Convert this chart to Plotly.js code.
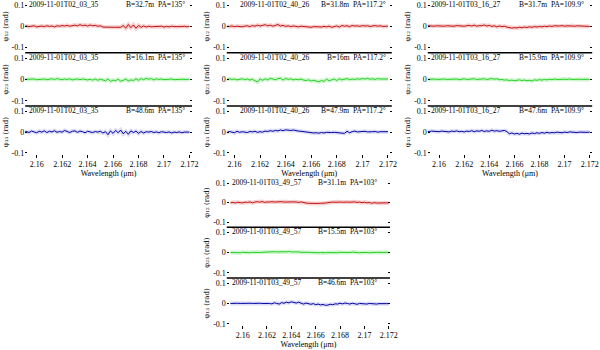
<!DOCTYPE html>
<html>
<head>
<meta charset="utf-8">
<script src="https://cdn.plot.ly/plotly-3.0.1.min.js"></script>
<style>
  html, body { margin: 0; padding: 0; background: #fff; }
  #chart { width: 600px; height: 350px; }
</style>
</head>
<body>
<div id="chart"></div>
<script>
'use strict';

// wavelength grid (micron), shared by all curves
var wavelength = [
    2.1590, 2.1592, 2.1594, 2.1596, 2.1598, 2.1600, 2.1602, 2.1604, 2.1606, 2.1608, 2.1610,
    2.1612, 2.1614, 2.1616, 2.1618, 2.1620, 2.1622, 2.1624, 2.1626, 2.1628, 2.1630, 2.1632,
    2.1634, 2.1636, 2.1638, 2.1640, 2.1642, 2.1644, 2.1646, 2.1648, 2.1650, 2.1652, 2.1654,
    2.1656, 2.1658, 2.1660, 2.1662, 2.1664, 2.1666, 2.1668, 2.1670, 2.1672, 2.1674, 2.1676,
    2.1678, 2.1680, 2.1682, 2.1684, 2.1686, 2.1688, 2.1690, 2.1692, 2.1694, 2.1696, 2.1698,
    2.1700, 2.1702, 2.1704, 2.1706, 2.1708, 2.1710, 2.1712, 2.1714, 2.1716, 2.1718, 2.1720
];

// observation 2009-11-01T02_03_35
var phiA1 = [
    0.000, 0.002, -0.001, 0.001, 0.003, -0.002, 0.001, 0.002, -0.001, 0.003, 0.000,
    0.002, -0.002, 0.003, 0.001, 0.004, 0.002, 0.005, 0.001, 0.004, 0.006, 0.003,
    0.008, 0.004, 0.006, 0.002, 0.007, 0.003, 0.005, 0.001, 0.003, -0.003, -0.004,
    -0.004, -0.005, -0.004, -0.004, -0.003, -0.004, 0.004, -0.008, 0.009, -0.006, 0.007,
    -0.009, 0.005, -0.004, 0.002, -0.003, 0.001, -0.002, -0.001, 0.000, -0.002, 0.001,
    -0.003, 0.000, -0.002, 0.001, -0.001, -0.002, 0.000, -0.001, 0.001, -0.002, 0.000
];
var phiA2 = [
    0.000, 0.001, -0.001, 0.000, 0.002, -0.001, 0.001, 0.000, 0.002, -0.001, 0.001,
    0.003, 0.000, 0.004, 0.001, -0.001, 0.002, 0.000, 0.003, -0.002, 0.001, 0.002,
    -0.001, 0.002, 0.000, -0.002, 0.001, -0.003, 0.002, -0.004, 0.001, -0.002, -0.006,
    0.002, -0.009, -0.003, -0.006, 0.001, -0.008, -0.004, 0.002, -0.007, -0.002, -0.005,
    0.003, -0.004, 0.004, -0.001, 0.005, 0.001, 0.004, -0.002, 0.003, 0.000, 0.002,
    -0.001, 0.001, 0.000, 0.002, -0.001, 0.001, 0.000, 0.001, -0.001, 0.000, 0.001
];
var phiA3 = [
    0.000, 0.003, -0.002, 0.005, 0.001, -0.003, 0.004, 0.000, 0.006, -0.002, 0.004,
    0.001, 0.007, -0.001, 0.003, 0.000, 0.008, 0.002, -0.002, 0.004, 0.006, -0.001,
    0.005, 0.002, -0.003, 0.004, 0.001, -0.002, 0.003, 0.000, 0.004, -0.004, 0.002,
    -0.012, 0.006, -0.006, 0.008, -0.003, 0.010, -0.008, 0.004, -0.010, 0.006, -0.002,
    0.005, -0.006, 0.003, -0.004, 0.002, 0.000, 0.003, -0.002, 0.001, -0.003, 0.002,
    0.000, -0.002, 0.001, -0.004, 0.000, -0.002, 0.001, -0.003, 0.000, -0.001, 0.000
];

// observation 2009-11-01T02_40_26
var phiB1 = [
    0.000, -0.001, 0.001, 0.000, 0.002, -0.001, 0.001, 0.000, -0.002, 0.001, 0.003,
    -0.001, 0.004, 0.001, 0.006, 0.002, 0.005, 0.008, 0.003, 0.006, 0.001, 0.004,
    0.009, 0.002, 0.005, 0.000, 0.003, -0.001, 0.002, 0.000, -0.002, 0.001, -0.001,
    -0.003, -0.002, -0.004, -0.001, -0.003, -0.002, -0.003, 0.000, -0.002, 0.001, -0.004,
    -0.001, 0.002, -0.003, 0.004, 0.001, 0.003, -0.001, 0.004, 0.002, 0.003, 0.000,
    0.004, 0.002, 0.003, 0.000, 0.002, 0.004, 0.001, 0.003, 0.000, 0.002, 0.001
];
var phiB2 = [
    0.000, 0.002, -0.001, 0.003, 0.000, 0.002, -0.002, 0.001, 0.003, -0.001, 0.002,
    -0.003, 0.001, -0.006, -0.012, 0.002, -0.004, 0.003, -0.002, 0.005, 0.001, -0.001,
    0.004, 0.006, -0.003, 0.005, 0.000, 0.003, -0.002, 0.001, -0.001, 0.002, -0.003,
    -0.005, -0.002, -0.007, -0.004, -0.008, -0.011, -0.005, -0.009, 0.001, -0.006, -0.002,
    0.002, -0.005, 0.003, -0.002, 0.001, 0.004, -0.001, 0.002, 0.000, 0.003, 0.001,
    0.004, 0.002, 0.005, 0.001, 0.003, 0.000, 0.004, 0.002, 0.003, 0.001, 0.002
];
var phiB3 = [
    0.000, 0.002, -0.002, 0.003, 0.000, -0.003, 0.004, -0.001, 0.002, 0.000, -0.002,
    0.003, 0.001, 0.004, -0.001, 0.002, 0.000, 0.005, 0.003, 0.007, 0.004, 0.008,
    0.006, 0.010, 0.007, 0.011, 0.009, 0.008, 0.010, 0.006, 0.005, 0.004, 0.002,
    0.001, -0.001, -0.002, -0.004, -0.003, -0.005, -0.002, -0.004, -0.001, -0.003, -0.002,
    -0.001, -0.002, -0.001, -0.002, -0.006, 0.004, -0.003, 0.002, 0.005, 0.001, 0.003,
    0.002, 0.004, 0.001, 0.003, 0.002, 0.003, 0.000, 0.002, 0.003, 0.001, 0.002
];

// observation 2009-11-01T03_16_27
var phiC1 = [
    0.004, 0.002, 0.003, 0.001, 0.003, 0.002, 0.004, 0.001, 0.003, 0.002, 0.003,
    0.001, 0.004, 0.002, 0.003, 0.001, 0.003, 0.005, 0.002, 0.006, 0.001, 0.004,
    0.003, 0.007, 0.002, 0.005, 0.000, 0.003, -0.002, 0.002, -0.001, 0.001, -0.003,
    -0.005, -0.008, -0.006, -0.007, -0.004, -0.006, -0.003, -0.005, -0.002, -0.004, -0.001,
    -0.003, 0.000, -0.002, 0.001, -0.001, 0.002, 0.000, 0.003, 0.001, 0.002, 0.004,
    0.001, 0.003, 0.002, 0.004, 0.001, 0.003, 0.002, 0.000, 0.002, 0.001, 0.000
];
var phiC2 = [
    0.000, 0.001, -0.001, 0.002, 0.000, 0.001, -0.001, 0.002, 0.000, 0.001, 0.002,
    0.000, 0.002, -0.001, 0.001, 0.003, 0.000, 0.002, 0.001, 0.003, 0.000, 0.002,
    0.001, 0.003, 0.000, 0.002, 0.004, 0.001, 0.003, -0.001, 0.000, -0.003, -0.002,
    -0.005, -0.003, -0.006, -0.004, -0.002, -0.005, -0.003, -0.006, -0.004, -0.007, -0.002,
    -0.004, -0.001, -0.003, 0.000, -0.002, 0.001, -0.001, 0.002, 0.000, 0.001, -0.001,
    0.001, 0.000, 0.002, 0.000, 0.001, -0.001, 0.001, 0.000, 0.001, 0.000, 0.001
];
var phiC3 = [
    0.004, 0.002, 0.005, 0.003, 0.004, 0.002, 0.005, 0.003, 0.004, 0.001, 0.005,
    0.003, 0.006, 0.002, 0.004, 0.001, 0.005, 0.003, 0.007, 0.002, 0.006, 0.004,
    0.008, 0.003, 0.006, 0.004, 0.009, 0.005, 0.007, 0.004, 0.006, 0.008, 0.003,
    -0.008, -0.004, -0.009, -0.006, -0.010, -0.005, -0.008, -0.006, -0.009, -0.004, -0.007,
    -0.003, -0.006, -0.002, -0.005, -0.001, -0.004, -0.002, -0.003, 0.000, -0.002, -0.003,
    0.000, -0.002, 0.001, -0.001, 0.000, -0.002, 0.000, -0.001, 0.001, -0.001, 0.000
];

// observation 2009-11-01T03_49_57
var phiD1 = [
    -0.001, 0.001, -0.002, 0.002, 0.000, -0.001, 0.003, 0.001, 0.004, -0.001, 0.003,
    0.005, 0.002, 0.006, 0.001, 0.004, 0.003, 0.005, 0.003, 0.004, 0.002, 0.005,
    0.003, 0.004, 0.002, 0.005, 0.004, 0.003, 0.001, 0.004, 0.000, -0.002, -0.003,
    -0.004, -0.004, -0.005, -0.004, -0.003, -0.004, -0.002, 0.000, 0.002, 0.003, 0.002,
    0.004, 0.003, 0.002, 0.004, 0.003, 0.002, 0.003, 0.004, 0.001, 0.003, 0.000,
    0.002, -0.001, 0.001, -0.003, 0.000, -0.002, -0.001, -0.003, -0.002, -0.001, -0.002
];
var phiD2 = [
    0.000, -0.001, 0.001, 0.000, -0.001, 0.001, 0.000, 0.002, -0.001, 0.001, 0.000,
    0.002, 0.000, 0.001, 0.002, 0.001, 0.003, 0.002, 0.004, 0.003, 0.004, 0.002,
    0.004, 0.003, 0.005, 0.003, 0.004, 0.002, 0.003, 0.001, 0.002, 0.000, 0.001,
    0.000, -0.001, 0.000, -0.001, 0.000, -0.002, -0.001, 0.000, -0.001, 0.001, 0.000,
    -0.001, 0.001, 0.000, -0.001, 0.001, 0.000, 0.002, 0.000, 0.001, -0.001, 0.000,
    0.001, 0.000, -0.001, 0.001, 0.000, 0.001, 0.000, -0.001, 0.000, 0.001, 0.000
];
var phiD3 = [
    0.000, 0.001, 0.000, 0.001, 0.000, 0.001, 0.000, 0.000, 0.001, 0.000, 0.001,
    0.000, 0.001, 0.000, 0.000, 0.002, 0.000, -0.002, 0.003, 0.000, -0.003, 0.004,
    0.001, 0.006, 0.003, 0.008, 0.005, 0.002, 0.006, 0.000, -0.003, 0.002, -0.002,
    -0.004, -0.001, -0.006, -0.003, -0.007, -0.005, -0.009, -0.008, -0.004, -0.006, -0.002,
    -0.003, 0.001, -0.002, 0.002, 0.000, -0.003, 0.001, -0.001, -0.004, 0.000, -0.002,
    -0.001, -0.003, 0.000, -0.002, -0.001, -0.003, -0.001, -0.002, 0.000, -0.001, -0.001
];

var dates = ['2009-11-01T02_03_35', '2009-11-01T02_40_26', '2009-11-01T03_16_27', '2009-11-01T03_49_57'];
var baselines = [
    ['B=32.7m  PA=135\u00b0', 'B=16.1m  PA=135\u00b0', 'B=48.6m  PA=135\u00b0'],
    ['B=31.8m  PA=117.2\u00b0', 'B=16m  PA=117.2\u00b0', 'B=47.9m  PA=117.2\u00b0'],
    ['B=31.7m  PA=109.9\u00b0', 'B=15.9m  PA=109.9\u00b0', 'B=47.6m  PA=109.9\u00b0'],
    ['B=31.1m  PA=103\u00b0', 'B=15.5m  PA=103\u00b0', 'B=46.6m  PA=103\u00b0']
];
var yLabels = ['\u03c6\u2081\u2082 (rad)', '\u03c6\u2082\u2083 (rad)', '\u03c6\u2081\u2083 (rad)'];
var xTicks = [2.160, 2.162, 2.164, 2.166, 2.168, 2.170, 2.172];
var xTickText = ['2.16', '2.162', '2.164', '2.166', '2.168', '2.17', '2.172'];
var yTicks = [-0.1, 0, 0.1];
var yTickText = ['-0.1', '0', '0.1'];

var series = [
    [phiA1, phiA2, phiA3],
    [phiB1, phiB2, phiB3],
    [phiC1, phiC2, phiC3],
    [phiD1, phiD2, phiD3]
];

// panel placement on the page (paper fractions), plus the x range of each
var panels = [
    {xdom: [0.042, 0.320], xr: [2.1591, 2.1722], ydoms: [[0.849, 1.0], [0.697, 0.849], [0.548, 0.697]], dateX: 0.01, baseX: 0.97},
    {xdom: [0.378, 0.653], xr: [2.1594, 2.1723], ydoms: [[0.849, 1.0], [0.697, 0.849], [0.548, 0.697]], dateX: 0.07, baseX: 0.975},
    {xdom: [0.713, 0.987], xr: [2.1591, 2.1722], ydoms: [[0.849, 1.0], [0.697, 0.849], [0.548, 0.697]], dateX: 0.01, baseX: 0.96},
    {xdom: [0.378, 0.650], xr: [2.1587, 2.1721], ydoms: [[0.351, 0.491], [0.206, 0.351], [0.060, 0.206]], dateX: 0.02, baseX: 0.93}
];

var lineColors = ['#c01010', '#22d022', '#0000a0'];
var bandColors = ['rgba(230,120,120,0.35)', 'rgba(120,230,120,0.35)', 'rgba(120,120,220,0.25)'];
var font = {family: 'Liberation Serif, Times New Roman, serif', size: 8, color: '#000000'};
var noteFont = {family: 'Liberation Serif, Times New Roman, serif', size: 7.5, color: '#000000'};
var labelFont = {family: 'DejaVu Serif, Liberation Serif, serif', size: 7, color: '#000000'};

var data = [];
var layout = {
    width: 600,
    height: 350,
    margin: {l: 0, r: 0, t: 0, b: 0},
    paper_bgcolor: '#fff',
    plot_bgcolor: '#fff',
    showlegend: false,
    font: font,
    annotations: [],
    shapes: []
};

var p, r, k, xName, yName, xKey, yKey, bottomY;

for (p = 0; p < panels.length; p += 1) {
    xName = p === 0 ? 'x' : 'x' + (p + 1);
    xKey = p === 0 ? 'xaxis' : 'xaxis' + (p + 1);
    bottomY = 'y' + (p * 3 + 3);

    layout[xKey] = {
        domain: panels[p].xdom,
        range: panels[p].xr,
        anchor: bottomY,
        tickvals: xTicks,
        ticktext: xTickText,
        ticks: 'inside',
        ticklen: 3,
        tickcolor: '#000',
        showline: false,
        showgrid: false,
        zeroline: false,
        automargin: false,
        tickfont: font,
        title: {text: 'Wavelength (\u03bcm)', font: font, standoff: 1}
    };

    for (r = 0; r < 3; r += 1) {
        k = p * 3 + r + 1;
        yName = k === 1 ? 'y' : 'y' + k;
        yKey = k === 1 ? 'yaxis' : 'yaxis' + k;

        layout[yKey] = {
            domain: panels[p].ydoms[r],
            range: [-0.125, 0.125],
            anchor: xName,
            tickvals: yTicks,
            ticktext: yTickText,
            ticks: 'inside',
            ticklen: 2,
            tickcolor: '#000',
            mirror: 'ticks',
            showline: false,
            showgrid: false,
            zeroline: false,
            automargin: false,
            tickfont: font,
            title: {text: yLabels[r], font: labelFont, standoff: 2}
        };

        // light error band under the curve
        data.push({
            x: wavelength,
            y: series[p][r],
            xaxis: xName,
            yaxis: yName,
            type: 'scatter',
            mode: 'lines',
            line: {color: bandColors[r], width: 4},
            hoverinfo: 'skip'
        });
        data.push({
            x: wavelength,
            y: series[p][r],
            xaxis: xName,
            yaxis: yName,
            type: 'scatter',
            mode: 'lines',
            line: {color: lineColors[r], width: 1}
        });

        layout.annotations.push({
            text: dates[p],
            xref: xName + ' domain',
            yref: yName + ' domain',
            x: panels[p].dateX,
            y: 0.91,
            xanchor: 'left',
            yanchor: 'middle',
            showarrow: false,
            font: noteFont
        });
        layout.annotations.push({
            text: baselines[p][r],
            xref: xName + ' domain',
            yref: yName + ' domain',
            x: panels[p].baseX,
            y: 0.91,
            xanchor: 'right',
            yanchor: 'middle',
            showarrow: false,
            font: noteFont
        });

        // black separator on top of the lower two strips
        if (r > 0) {
            layout.shapes.push({
                type: 'line',
                xref: xName + ' domain',
                yref: yName + ' domain',
                x0: 0, x1: 1, y0: 1, y1: 1,
                line: {color: '#000', width: 1.5}
            });
        }
    }
}

Plotly.newPlot('chart', data, layout, {displayModeBar: false});
</script>
</body>
</html>
